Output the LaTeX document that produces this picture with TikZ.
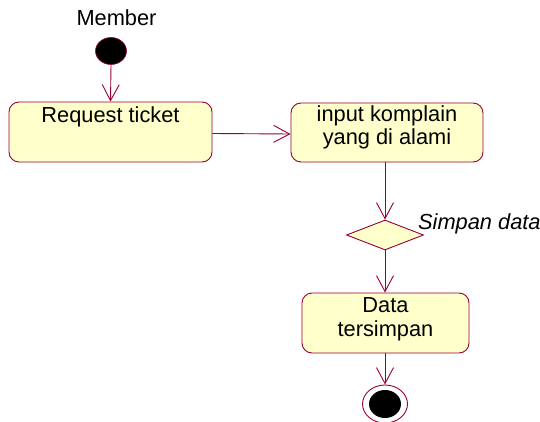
\documentclass[tikz,border=0pt]{standalone}
\usepackage{fontspec}
\setmainfont{Liberation Sans}
\usetikzlibrary{arrows.meta,shapes.geometric,calc}
\definecolor{umlline}{RGB}{153,0,51}
\definecolor{umlfill}{RGB}{255,255,204}
\begin{document}
\begin{tikzpicture}[x=1pt,y=-1pt,
  every node/.style={font=\fontsize{21.8}{23}\selectfont},
  actbox/.style={draw=umlline, fill=umlfill, line width=0.9pt, rounded corners=10pt,
    rectangle, inner sep=0pt},
  lbl/.style={anchor=base, align=center, inner sep=0pt},
  flow/.style={draw=umlline, line width=0.9pt,
    -{Straight Barb[length=16pt,width=17pt,line width=0.9pt]}},
  startdot/.style={ellipse, fill=black, draw=umlline, line width=0.6pt,
    minimum width=31pt, minimum height=27pt, inner sep=0pt},
  enddot/.style={ellipse, fill=black, minimum width=32pt, minimum height=28pt, inner sep=0pt},
  endring/.style={ellipse, draw=umlline, fill=white, line width=0.9pt,
    minimum width=45pt, minimum height=38pt, inner sep=0pt},
  choice/.style={diamond, draw=umlline, fill=umlfill, line width=0.9pt,
    minimum width=77pt, minimum height=30pt, aspect=2.57, inner sep=0pt}
]
\useasboundingbox (0,0) rectangle (540,422);

% initial state
\node[lbl] (member) at (116.5,26) {Member};
\node[startdot] (start) at (111,51) {};

% activities
\node[actbox, minimum width=203pt, minimum height=60pt] (req) at (110.5,132) {};
\node[lbl] (reqtxt) at (110.5,123) {Request ticket};

\node[actbox, minimum width=192pt, minimum height=59pt] (inp) at (387,132.5) {};
\node[lbl] (inptxt1) at (387,122) {input komplain};
\node[lbl] (inptxt2) at (387,145) {yang di alami};

\node[choice] (dec) at (385,235) {};
\node[lbl, anchor=base west, font=\fontsize{21.8}{23}\selectfont\itshape] (dectxt) at (418,229) {Simpan data};

\node[actbox, minimum width=167pt, minimum height=60pt] (dat) at (385.5,323) {};
\node[lbl] (dattxt1) at (385.5,312.5) {Data};
\node[lbl] (dattxt2) at (385.5,336) {tersimpan};

% final state
\node[endring] (endo) at (385,404) {};
\node[enddot] (endi) at (endo) {};

% transitions
\draw[flow] (start.south) -- (req.north);
\draw[flow] ([yshift=-1.5pt]req.east) -- ([yshift=-1.5pt]inp.west);
\draw[flow] (inp.south -| dec.north) -- (dec.north);
\draw[flow] (dec.south) -- (dat.north -| dec.south);
\draw[flow] (dat.south -| endo.north) -- (endo.north);
\end{tikzpicture}
\end{document}
